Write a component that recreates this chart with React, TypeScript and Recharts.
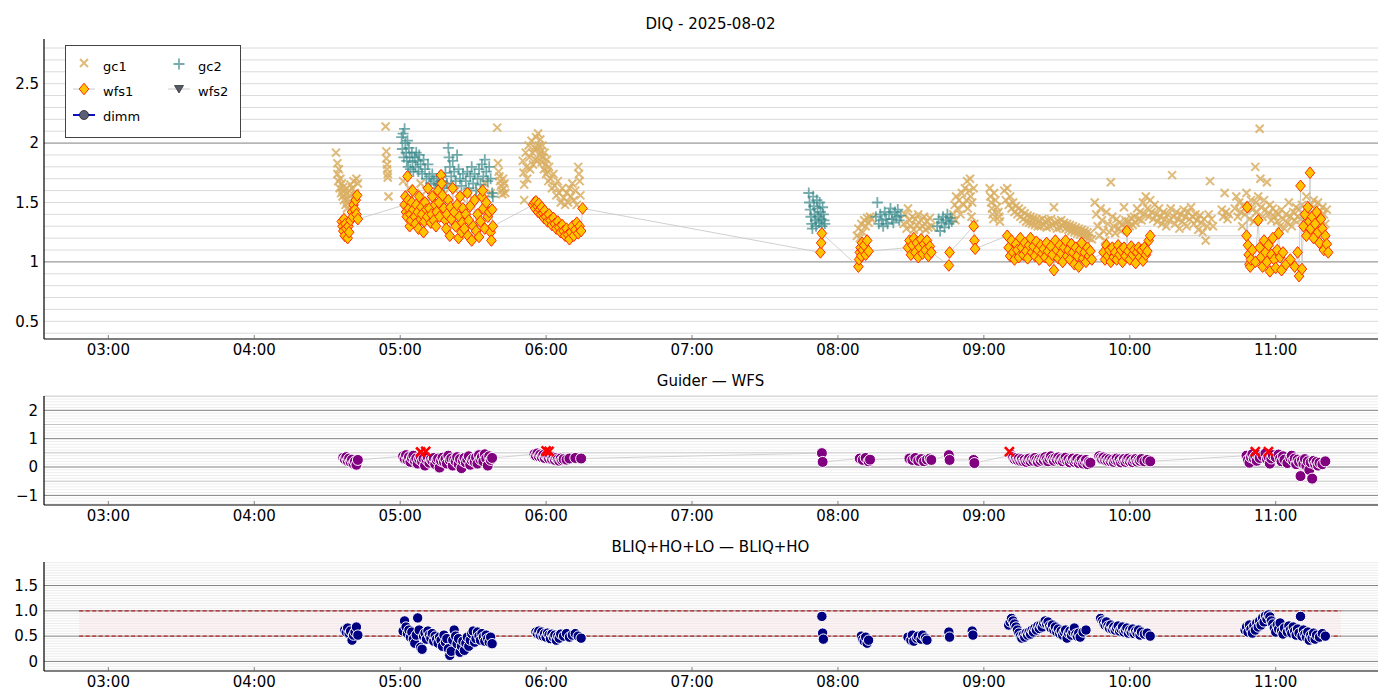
import React from "react";
import {
  ComposedChart, Scatter, XAxis, YAxis, ReferenceLine, ReferenceArea,
} from "recharts";

// time in decimal hours (UT), value
const gc1: number[][] = [
  [4.56, 1.92], [4.57, 1.83], [4.57, 1.74], [4.575, 1.68], [4.58, 1.78], [4.585, 1.62], [4.59, 1.7], [4.595, 1.58],
  [4.6, 1.66], [4.605, 1.55], [4.61, 1.63], [4.615, 1.52], [4.62, 1.6], [4.625, 1.48], [4.63, 1.57], [4.635, 1.45],
  [4.64, 1.53], [4.645, 1.5], [4.65, 1.6], [4.655, 1.56], [4.66, 1.65], [4.67, 1.62], [4.68, 1.68], [4.69, 1.58],
  [4.7, 1.7], [4.71, 1.66],
  [4.9, 2.14], [4.905, 1.93], [4.905, 1.87], [4.91, 1.82], [4.91, 1.78], [4.915, 1.74], [4.915, 1.71], [4.92, 1.55],
  [5.02, 1.68], [5.06, 1.62], [5.1, 1.58], [5.14, 1.66], [5.18, 1.6], [5.22, 1.55], [5.26, 1.63], [5.3, 1.57],
  [5.34, 1.65], [5.38, 1.6], [5.42, 1.54], [5.46, 1.58], [5.5, 1.52], [5.54, 1.6], [5.58, 1.66], [5.62, 1.58],
  [5.665, 2.13], [5.67, 1.83], [5.675, 1.76], [5.68, 1.72], [5.685, 1.68], [5.69, 1.64], [5.695, 1.6], [5.7, 1.57],
  [5.705, 1.7], [5.71, 1.62], [5.715, 1.66], [5.72, 1.58],
  [5.84, 1.85], [5.845, 1.75], [5.85, 1.65], [5.85, 1.52], [5.86, 1.92], [5.865, 1.8], [5.87, 1.7], [5.88, 1.98],
  [5.885, 1.88], [5.89, 1.78], [5.9, 2.02], [5.905, 1.92], [5.91, 1.82], [5.92, 1.96], [5.925, 1.86], [5.93, 2.05],
  [5.935, 1.95], [5.94, 1.85], [5.945, 2.08], [5.95, 1.98], [5.955, 1.9], [5.96, 2.03], [5.965, 1.93], [5.97, 1.84],
  [5.975, 1.98], [5.98, 1.88], [5.985, 1.78], [5.99, 1.92], [5.995, 1.82], [6.0, 1.74], [6.005, 1.86], [6.01, 1.76],
  [6.015, 1.68], [6.02, 1.8], [6.03, 1.7], [6.04, 1.62], [6.05, 1.74], [6.06, 1.64], [6.07, 1.56], [6.08, 1.68],
  [6.09, 1.58], [6.1, 1.5], [6.11, 1.62], [6.12, 1.54], [6.13, 1.48], [6.14, 1.58], [6.15, 1.5], [6.16, 1.62],
  [6.17, 1.55], [6.18, 1.66], [6.19, 1.52], [6.2, 1.6], [6.21, 1.48], [6.22, 1.8], [6.225, 1.74], [6.23, 1.68], [6.235, 1.56],
  [8.13, 1.22], [8.14, 1.28], [8.15, 1.2], [8.16, 1.32], [8.17, 1.25], [8.18, 1.35], [8.19, 1.3], [8.2, 1.37],
  [8.21, 1.33], [8.22, 1.38], [8.23, 1.36],
  [8.45, 1.32], [8.46, 1.4], [8.47, 1.28], [8.48, 1.45], [8.49, 1.35], [8.5, 1.3], [8.51, 1.38], [8.52, 1.27],
  [8.53, 1.36], [8.54, 1.31], [8.55, 1.4], [8.56, 1.28], [8.57, 1.35], [8.58, 1.3], [8.59, 1.38], [8.6, 1.27],
  [8.61, 1.34], [8.62, 1.29], [8.63, 1.37], [8.64, 1.3],
  [8.79, 1.4], [8.8, 1.48], [8.805, 1.35], [8.81, 1.55], [8.82, 1.45], [8.83, 1.52], [8.84, 1.4], [8.85, 1.58],
  [8.86, 1.48], [8.87, 1.62], [8.88, 1.52], [8.885, 1.68], [8.89, 1.45], [8.9, 1.6], [8.905, 1.7], [8.91, 1.55],
  [8.915, 1.38], [8.92, 1.5], [8.93, 1.62], [8.935, 1.32],
  [9.04, 1.62], [9.045, 1.55], [9.05, 1.5], [9.055, 1.45], [9.06, 1.4], [9.065, 1.36], [9.07, 1.58], [9.08, 1.52],
  [9.09, 1.46], [9.1, 1.42], [9.105, 1.38], [9.11, 1.34],
  [9.14, 1.6], [9.15, 1.52], [9.16, 1.62], [9.17, 1.48], [9.18, 1.55], [9.19, 1.45], [9.2, 1.5], [9.21, 1.42],
  [9.22, 1.47], [9.23, 1.4], [9.24, 1.45], [9.25, 1.38], [9.26, 1.43], [9.27, 1.36], [9.28, 1.41], [9.29, 1.34],
  [9.3, 1.39], [9.31, 1.33], [9.32, 1.38], [9.33, 1.32], [9.34, 1.37], [9.35, 1.31], [9.36, 1.36], [9.37, 1.3],
  [9.38, 1.35], [9.39, 1.3], [9.4, 1.36], [9.41, 1.31], [9.42, 1.34], [9.43, 1.29], [9.44, 1.35], [9.45, 1.3],
  [9.46, 1.36], [9.47, 1.31], [9.48, 1.46], [9.49, 1.33], [9.5, 1.28], [9.51, 1.34], [9.52, 1.29], [9.53, 1.35],
  [9.54, 1.3], [9.55, 1.33], [9.56, 1.28], [9.57, 1.32], [9.58, 1.27], [9.59, 1.31], [9.6, 1.26], [9.61, 1.3],
  [9.62, 1.25], [9.63, 1.29], [9.64, 1.24], [9.65, 1.28], [9.66, 1.23], [9.67, 1.27], [9.68, 1.22], [9.69, 1.26],
  [9.7, 1.21], [9.71, 1.25], [9.72, 1.2], [9.73, 1.24], [9.74, 1.19],
  [9.76, 1.5], [9.77, 1.4], [9.78, 1.3], [9.79, 1.22], [9.8, 1.45], [9.81, 1.35], [9.82, 1.26], [9.83, 1.18],
  [9.84, 1.42], [9.85, 1.32], [9.86, 1.25], [9.87, 1.67], [9.88, 1.38], [9.89, 1.3], [9.9, 1.24], [9.91, 1.36],
  [9.92, 1.28], [9.93, 1.33], [9.94, 1.26], [9.95, 1.31], [9.96, 1.46], [9.97, 1.35], [9.98, 1.28], [9.99, 1.34],
  [10.0, 1.3], [10.01, 1.37], [10.02, 1.31], [10.03, 1.38], [10.04, 1.33], [10.05, 1.45], [10.06, 1.36], [10.07, 1.42],
  [10.08, 1.35], [10.09, 1.5], [10.1, 1.4], [10.11, 1.55], [10.12, 1.45], [10.13, 1.38], [10.14, 1.52], [10.15, 1.42],
  [10.16, 1.36], [10.17, 1.48], [10.18, 1.4], [10.19, 1.34], [10.2, 1.45], [10.21, 1.38], [10.22, 1.32], [10.23, 1.42],
  [10.24, 1.36], [10.25, 1.3], [10.26, 1.4], [10.27, 1.35], [10.28, 1.45], [10.29, 1.73], [10.3, 1.38],
  [10.31, 1.32], [10.32, 1.42], [10.33, 1.36], [10.34, 1.28], [10.35, 1.4], [10.36, 1.34], [10.37, 1.44], [10.38, 1.38],
  [10.39, 1.3], [10.4, 1.42], [10.41, 1.36], [10.42, 1.46], [10.43, 1.38], [10.44, 1.32], [10.45, 1.4], [10.46, 1.35],
  [10.47, 1.27], [10.48, 1.39], [10.49, 1.33], [10.5, 1.25], [10.51, 1.36], [10.52, 1.18], [10.53, 1.3], [10.54, 1.4],
  [10.55, 1.68], [10.56, 1.36], [10.57, 1.3], [10.63, 1.44], [10.64, 1.38], [10.65, 1.58], [10.66, 1.42], [10.67, 1.36], [10.68, 1.4],
  [10.72, 1.45], [10.73, 1.55], [10.74, 1.38], [10.75, 1.5], [10.76, 1.42], [10.77, 1.3], [10.78, 1.48], [10.79, 1.4],
  [10.8, 1.58], [10.81, 1.46], [10.82, 1.36], [10.83, 1.52], [10.84, 1.44], [10.85, 1.34], [10.86, 1.8], [10.865, 1.5],
  [10.87, 1.42], [10.88, 1.55], [10.89, 2.12], [10.895, 1.7], [10.9, 1.46], [10.91, 1.38], [10.92, 1.52], [10.93, 1.44],
  [10.94, 1.67], [10.95, 1.4], [10.96, 1.48], [10.97, 1.35], [10.98, 1.45], [10.99, 1.38], [11.0, 1.42], [11.01, 1.34],
  [11.02, 1.4], [11.03, 1.3], [11.04, 1.44], [11.05, 1.36], [11.06, 1.28], [11.07, 1.4], [11.08, 1.33], [11.09, 1.5],
  [11.1, 1.38], [11.11, 1.3], [11.12, 1.42], [11.13, 1.35], [11.14, 1.46], [11.15, 1.38], [11.16, 1.44], [11.17, 1.36],
  [11.18, 1.48], [11.19, 1.4], [11.2, 1.34], [11.21, 1.55], [11.22, 1.42], [11.23, 1.36], [11.24, 1.48], [11.25, 1.4],
  [11.26, 1.52], [11.27, 1.45], [11.28, 1.38], [11.29, 1.5], [11.3, 1.42], [11.31, 1.35], [11.32, 1.46], [11.33, 1.4],
  [11.34, 1.32], [11.35, 1.44],
];

const gc2: number[][] = [
  [5.01, 2.05], [5.015, 1.95], [5.02, 2.08], [5.025, 1.88], [5.03, 2.12], [5.035, 2.0], [5.04, 1.92], [5.045, 1.85],
  [5.05, 2.02], [5.055, 1.8], [5.06, 1.96], [5.065, 1.88], [5.07, 1.78], [5.08, 1.92], [5.085, 1.84], [5.09, 1.76],
  [5.1, 1.88], [5.105, 1.8], [5.11, 1.92], [5.12, 1.85], [5.125, 1.76], [5.13, 1.9], [5.14, 1.82], [5.15, 1.74],
  [5.16, 1.86], [5.17, 1.78], [5.18, 1.7], [5.19, 1.82], [5.2, 1.72], [5.21, 1.66], [5.22, 1.74], [5.23, 1.68],
  [5.24, 1.62], [5.25, 1.7], [5.26, 1.65], [5.27, 1.72], [5.28, 1.64], [5.29, 1.68], [5.3, 1.62], [5.31, 1.75],
  [5.32, 1.66], [5.33, 1.96], [5.335, 1.88], [5.34, 1.8], [5.35, 1.72], [5.36, 1.85], [5.37, 1.76], [5.38, 1.68],
  [5.39, 1.9], [5.4, 1.78], [5.41, 1.7], [5.42, 1.64], [5.43, 1.74], [5.45, 1.68], [5.46, 1.76], [5.47, 1.62],
  [5.48, 1.72], [5.49, 1.8], [5.5, 1.66], [5.51, 1.74], [5.52, 1.6], [5.53, 1.7], [5.54, 1.78], [5.55, 1.65],
  [5.56, 1.82], [5.57, 1.72], [5.58, 1.86], [5.59, 1.76], [5.6, 1.68], [5.61, 1.8], [5.62, 1.7], [5.63, 1.58], [5.635, 1.55],
  [7.8, 1.58], [7.805, 1.5], [7.81, 1.44], [7.815, 1.38], [7.82, 1.32], [7.825, 1.28], [7.83, 1.55], [7.835, 1.47],
  [7.84, 1.4], [7.845, 1.35], [7.85, 1.3], [7.855, 1.52], [7.86, 1.45], [7.865, 1.38], [7.87, 1.33], [7.875, 1.5],
  [7.88, 1.42], [7.885, 1.36], [7.89, 1.3], [7.895, 1.46], [7.9, 1.4], [7.905, 1.35], [7.91, 1.32],
  [8.26, 1.38], [8.27, 1.5], [8.28, 1.32], [8.29, 1.4], [8.3, 1.35], [8.31, 1.3], [8.32, 1.42], [8.33, 1.36],
  [8.34, 1.32], [8.35, 1.4], [8.36, 1.45], [8.37, 1.36], [8.38, 1.33], [8.39, 1.42], [8.4, 1.38], [8.41, 1.44],
  [8.42, 1.35], [8.43, 1.39],
  [8.68, 1.3], [8.69, 1.36], [8.7, 1.26], [8.71, 1.33], [8.72, 1.38], [8.73, 1.29], [8.74, 1.35], [8.75, 1.4],
  [8.76, 1.32], [8.77, 1.37], [8.78, 1.34],
];

const wfs1: number[][] = [
  [4.6, 1.34], [4.605, 1.3], [4.61, 1.26], [4.615, 1.36], [4.62, 1.22], [4.625, 1.32], [4.63, 1.28], [4.64, 1.2],
  [4.645, 1.3], [4.65, 1.25], [4.66, 1.35], [4.67, 1.42], [4.675, 1.38], [4.68, 1.48], [4.69, 1.44], [4.695, 1.52],
  [4.7, 1.4], [4.705, 1.56], [4.71, 1.36],
  [5.03, 1.48], [5.035, 1.55], [5.04, 1.42], [5.045, 1.38], [5.05, 1.72], [5.055, 1.52], [5.06, 1.45], [5.065, 1.3],
  [5.07, 1.4], [5.075, 1.35], [5.08, 1.5], [5.085, 1.6], [5.09, 1.44], [5.1, 1.38], [5.105, 1.32], [5.11, 1.48],
  [5.12, 1.42], [5.125, 1.28], [5.13, 1.55], [5.14, 1.36], [5.145, 1.46], [5.15, 1.4], [5.16, 1.25], [5.165, 1.34],
  [5.17, 1.5], [5.18, 1.44], [5.185, 1.38], [5.19, 1.62], [5.2, 1.45], [5.21, 1.33], [5.215, 1.4], [5.22, 1.55],
  [5.23, 1.35], [5.24, 1.48], [5.245, 1.3], [5.25, 1.42], [5.26, 1.6], [5.265, 1.5], [5.27, 1.38], [5.28, 1.73],
  [5.285, 1.66], [5.29, 1.56], [5.3, 1.45], [5.31, 1.35], [5.315, 1.28], [5.32, 1.4], [5.33, 1.52], [5.34, 1.22],
  [5.345, 1.46], [5.35, 1.36], [5.36, 1.62], [5.37, 1.42], [5.38, 1.3], [5.39, 1.48], [5.4, 1.2], [5.405, 1.38],
  [5.41, 1.55], [5.42, 1.25], [5.425, 1.33], [5.43, 1.45], [5.44, 1.28], [5.45, 1.4], [5.46, 1.58], [5.465, 1.22],
  [5.47, 1.35], [5.48, 1.47], [5.49, 1.18], [5.5, 1.3], [5.51, 1.52], [5.52, 1.26], [5.53, 1.4], [5.54, 1.21],
  [5.55, 1.34], [5.56, 1.55], [5.565, 1.6], [5.57, 1.45], [5.58, 1.28], [5.59, 1.5], [5.6, 1.38], [5.61, 1.42],
  [5.62, 1.25], [5.625, 1.18], [5.63, 1.44], [5.635, 1.3],
  [5.91, 1.48], [5.92, 1.5], [5.925, 1.45], [5.93, 1.51], [5.94, 1.47], [5.945, 1.42], [5.95, 1.49], [5.96, 1.44],
  [5.965, 1.4], [5.97, 1.46], [5.98, 1.41], [5.985, 1.37], [5.99, 1.43], [6.0, 1.38], [6.01, 1.34], [6.02, 1.4],
  [6.03, 1.35], [6.04, 1.31], [6.05, 1.37], [6.06, 1.32], [6.07, 1.28], [6.08, 1.34], [6.09, 1.29], [6.1, 1.25],
  [6.11, 1.31], [6.12, 1.26], [6.13, 1.22], [6.14, 1.28], [6.15, 1.23], [6.16, 1.19], [6.17, 1.25], [6.18, 1.3],
  [6.19, 1.22], [6.2, 1.27], [6.21, 1.33], [6.22, 1.24], [6.23, 1.3], [6.24, 1.26], [6.25, 1.45],
  [7.88, 1.08], [7.885, 1.16], [7.89, 1.24],
  [8.14, 0.96], [8.145, 1.02], [8.15, 1.08], [8.155, 1.12], [8.16, 1.05], [8.165, 1.16], [8.17, 1.1], [8.18, 1.14],
  [8.19, 1.06], [8.2, 1.18], [8.21, 1.09],
  [8.48, 1.12], [8.49, 1.18], [8.5, 1.06], [8.51, 1.14], [8.52, 1.2], [8.53, 1.08], [8.54, 1.16], [8.55, 1.04],
  [8.56, 1.12], [8.57, 1.19], [8.58, 1.07], [8.59, 1.15], [8.6, 1.1], [8.61, 1.18], [8.62, 1.05], [8.63, 1.13], [8.64, 1.08],
  [8.76, 0.97], [8.765, 1.08],
  [8.93, 1.3], [8.935, 1.18], [8.94, 1.11],
  [9.16, 1.22], [9.17, 1.12], [9.18, 1.05], [9.19, 1.18], [9.2, 1.08], [9.21, 1.02], [9.22, 1.15], [9.23, 1.1],
  [9.24, 1.04], [9.25, 1.2], [9.26, 1.12], [9.27, 1.06], [9.28, 1.16], [9.29, 1.09], [9.3, 1.03], [9.31, 1.14],
  [9.32, 1.2], [9.33, 1.08], [9.34, 1.13], [9.35, 1.05], [9.36, 1.17], [9.37, 1.1], [9.38, 1.02], [9.39, 1.14],
  [9.4, 1.07], [9.41, 1.11], [9.42, 1.04], [9.43, 1.16], [9.44, 1.09], [9.45, 1.01], [9.46, 1.13], [9.47, 1.06],
  [9.48, 0.93], [9.49, 1.18], [9.5, 1.1], [9.51, 1.03], [9.52, 1.14], [9.53, 1.07], [9.54, 1.0], [9.55, 1.12],
  [9.56, 1.18], [9.57, 1.05], [9.58, 1.1], [9.59, 1.02], [9.6, 1.15], [9.61, 1.08], [9.62, 0.98], [9.63, 1.12],
  [9.64, 1.05], [9.65, 0.96], [9.66, 1.1], [9.67, 1.16], [9.68, 1.03], [9.69, 1.08], [9.7, 1.0], [9.71, 1.12],
  [9.72, 1.05], [9.73, 1.09], [9.74, 1.02],
  [9.82, 1.08], [9.83, 1.02], [9.84, 1.14], [9.85, 1.05], [9.86, 1.1], [9.87, 1.0], [9.88, 1.12], [9.89, 1.04],
  [9.9, 1.08], [9.91, 1.02], [9.92, 1.14], [9.93, 1.06], [9.94, 1.1], [9.95, 1.0], [9.96, 1.12], [9.97, 1.05],
  [9.98, 1.26], [9.99, 1.09], [10.0, 1.02], [10.01, 1.13], [10.02, 1.06], [10.03, 1.1], [10.04, 0.99], [10.05, 1.08],
  [10.06, 1.12], [10.07, 1.04], [10.08, 1.1], [10.09, 1.01], [10.1, 1.12], [10.11, 1.06], [10.12, 1.09], [10.13, 1.18], [10.14, 1.22],
  [10.8, 1.22], [10.805, 1.46], [10.81, 1.14], [10.815, 1.06], [10.82, 0.98], [10.825, 0.96], [10.83, 1.02], [10.84, 1.1],
  [10.86, 1.0], [10.88, 1.35], [10.89, 1.12], [10.9, 1.04], [10.91, 0.96], [10.92, 1.18], [10.93, 1.08], [10.94, 1.0],
  [10.95, 1.14], [10.96, 0.92], [10.97, 1.06], [10.98, 1.2], [10.99, 1.02], [11.0, 0.95], [11.01, 1.1], [11.02, 1.24],
  [11.03, 1.04], [11.04, 0.93], [11.05, 1.08], [11.07, 0.98], [11.1, 1.02], [11.13, 0.96], [11.15, 1.08], [11.16, 0.88],
  [11.17, 1.64], [11.18, 0.94], [11.19, 1.3], [11.2, 1.4], [11.21, 1.22], [11.22, 1.46], [11.23, 1.34], [11.235, 1.75],
  [11.24, 1.28], [11.25, 1.38], [11.26, 1.2], [11.27, 1.32], [11.28, 1.42], [11.29, 1.25], [11.3, 1.16], [11.31, 1.36],
  [11.32, 1.28], [11.33, 1.1], [11.34, 1.22], [11.35, 1.15], [11.36, 1.08],
];

const guider: number[][] = [
  [4.61, 0.33], [4.62, 0.28], [4.63, 0.35], [4.64, 0.22], [4.65, 0.3], [4.66, 0.18], [4.67, 0.26], [4.68, 0.12],
  [4.69, 0.2], [4.7, 0.08], [4.71, 0.25],
  [5.02, 0.38], [5.03, 0.3], [5.04, 0.42], [5.05, 0.25], [5.06, 0.35], [5.07, 0.18], [5.08, 0.32], [5.09, 0.4],
  [5.1, 0.22], [5.11, 0.3], [5.12, 0.12], [5.13, 0.28], [5.14, 0.36], [5.15, 0.2], [5.16, 0.3], [5.17, 0.05],
  [5.18, 0.26], [5.19, 0.34], [5.2, 0.15], [5.21, 0.28], [5.22, 0.22], [5.23, 0.32], [5.24, 0.1], [5.25, 0.25],
  [5.26, 0.3], [5.27, -0.02], [5.28, 0.22], [5.29, 0.33], [5.3, 0.18], [5.31, 0.28], [5.32, 0.12], [5.33, 0.4],
  [5.34, 0.24], [5.35, 0.3], [5.36, 0.05], [5.37, 0.26], [5.38, 0.2], [5.39, 0.35], [5.4, 0.1], [5.41, 0.28],
  [5.42, -0.04], [5.43, 0.22], [5.44, 0.32], [5.45, 0.16], [5.46, 0.27], [5.47, 0.38], [5.48, 0.08], [5.49, 0.24],
  [5.5, 0.3], [5.51, 0.18], [5.52, 0.34], [5.53, 0.12], [5.54, 0.42], [5.55, 0.26], [5.56, 0.35], [5.57, 0.2],
  [5.58, 0.45], [5.59, 0.3], [5.6, 0.05], [5.61, 0.38], [5.62, 0.25], [5.63, 0.32],
  [5.92, 0.45], [5.93, 0.4], [5.94, 0.48], [5.95, 0.38], [5.96, 0.44], [5.97, 0.35], [5.98, 0.42], [5.99, 0.32],
  [6.0, 0.4], [6.01, 0.36], [6.02, 0.3], [6.03, 0.38], [6.04, 0.28], [6.05, 0.34], [6.06, 0.25], [6.07, 0.32],
  [6.08, 0.27], [6.09, 0.22], [6.1, 0.3], [6.11, 0.24], [6.12, 0.28], [6.14, 0.26], [6.16, 0.3], [6.2, 0.32], [6.24, 0.3],
  [7.89, 0.49], [7.895, 0.18],
  [8.15, 0.3], [8.17, 0.25], [8.19, 0.32], [8.21, 0.2], [8.22, 0.26],
  [8.49, 0.3], [8.51, 0.25], [8.53, 0.32], [8.55, 0.22], [8.57, 0.28], [8.59, 0.2], [8.61, 0.26], [8.63, 0.3], [8.64, 0.25],
  [8.76, 0.42], [8.765, 0.25],
  [8.93, 0.25], [8.935, 0.14],
  [9.19, 0.42], [9.2, 0.35], [9.21, 0.28], [9.22, 0.32], [9.23, 0.25], [9.24, 0.3], [9.25, 0.22], [9.26, 0.28],
  [9.27, 0.2], [9.28, 0.26], [9.29, 0.18], [9.3, 0.25], [9.31, 0.3], [9.32, 0.2], [9.33, 0.27], [9.34, 0.22],
  [9.35, 0.32], [9.36, 0.24], [9.37, 0.18], [9.38, 0.28], [9.39, 0.22], [9.4, 0.3], [9.41, 0.25], [9.42, 0.35],
  [9.43, 0.27], [9.44, 0.2], [9.45, 0.3], [9.46, 0.38], [9.47, 0.28], [9.48, 0.22], [9.49, 0.32], [9.5, 0.26],
  [9.51, 0.34], [9.52, 0.24], [9.53, 0.3], [9.54, 0.2], [9.55, 0.28], [9.56, 0.33], [9.57, 0.22], [9.58, 0.27],
  [9.59, 0.16], [9.6, 0.25], [9.61, 0.3], [9.62, 0.18], [9.63, 0.24], [9.64, 0.28], [9.65, 0.14], [9.66, 0.22],
  [9.67, 0.26], [9.68, 0.12], [9.69, 0.2], [9.7, 0.25], [9.71, 0.1], [9.72, 0.18], [9.73, 0.15],
  [9.79, 0.38], [9.8, 0.32], [9.81, 0.28], [9.82, 0.34], [9.83, 0.25], [9.84, 0.3], [9.85, 0.22], [9.86, 0.28],
  [9.87, 0.2], [9.88, 0.26], [9.89, 0.18], [9.9, 0.25], [9.91, 0.3], [9.92, 0.2], [9.93, 0.27], [9.94, 0.16],
  [9.95, 0.24], [9.96, 0.28], [9.97, 0.18], [9.98, 0.25], [9.99, 0.3], [10.0, 0.2], [10.01, 0.26], [10.02, 0.17],
  [10.03, 0.24], [10.04, 0.28], [10.05, 0.19], [10.06, 0.25], [10.07, 0.22], [10.08, 0.28], [10.1, 0.2], [10.12, 0.25], [10.14, 0.2],
  [10.8, 0.4], [10.81, 0.25], [10.82, 0.15], [10.83, 0.35], [10.84, 0.45], [10.85, 0.3], [10.86, 0.38], [10.87, 0.22],
  [10.88, 0.42], [10.89, 0.32], [10.91, 0.4], [10.93, 0.48], [10.94, 0.28], [10.95, 0.36], [10.96, 0.12], [10.97, 0.3],
  [10.98, 0.42], [11.0, 0.35], [11.02, 0.44], [11.03, 0.3], [11.04, 0.2], [11.05, 0.38], [11.06, 0.26], [11.08, 0.14],
  [11.1, 0.32], [11.11, 0.4], [11.12, 0.22], [11.13, 0.3], [11.14, 0.1], [11.15, 0.26], [11.16, 0.18], [11.17, -0.32],
  [11.18, 0.24], [11.19, 0.12], [11.2, 0.28], [11.21, 0.05], [11.22, 0.2], [11.23, -0.1], [11.24, 0.16], [11.25, -0.41],
  [11.26, 0.22], [11.27, 0.1], [11.28, 0.18], [11.29, 0.05], [11.3, 0.15], [11.32, 0.1], [11.34, 0.2],
];

const guiderFlags: number[][] = [
  [5.14, 0.53], [5.175, 0.55], [6.0, 0.57], [6.02, 0.55], [9.175, 0.54], [10.86, 0.54], [10.95, 0.54],
];

const bliq: number[][] = [
  [4.62, 0.62], [4.63, 0.58], [4.64, 0.66], [4.65, 0.55], [4.66, 0.6], [4.67, 0.42], [4.68, 0.52], [4.69, 0.58],
  [4.7, 0.68], [4.71, 0.52],
  [5.02, 0.6], [5.03, 0.8], [5.04, 0.68], [5.05, 0.55], [5.06, 0.62], [5.07, 0.48], [5.08, 0.58], [5.09, 0.44],
  [5.1, 0.36], [5.11, 0.52], [5.12, 0.86], [5.13, 0.62], [5.14, 0.28], [5.15, 0.24], [5.16, 0.5], [5.17, 0.56],
  [5.18, 0.44], [5.19, 0.6], [5.2, 0.52], [5.21, 0.46], [5.22, 0.55], [5.23, 0.4], [5.24, 0.5], [5.25, 0.44],
  [5.26, 0.36], [5.27, 0.48], [5.28, 0.42], [5.29, 0.3], [5.3, 0.52], [5.31, 0.38], [5.32, 0.45], [5.33, 0.25],
  [5.34, 0.12], [5.35, 0.2], [5.36, 0.42], [5.37, 0.62], [5.38, 0.5], [5.39, 0.35], [5.4, 0.45], [5.41, 0.18],
  [5.42, 0.3], [5.43, 0.4], [5.44, 0.22], [5.45, 0.36], [5.46, 0.48], [5.47, 0.3], [5.48, 0.42], [5.49, 0.55],
  [5.5, 0.6], [5.51, 0.38], [5.52, 0.45], [5.53, 0.58], [5.54, 0.5], [5.55, 0.42], [5.56, 0.55], [5.57, 0.48],
  [5.58, 0.4], [5.59, 0.52], [5.6, 0.45], [5.61, 0.38], [5.62, 0.48], [5.63, 0.35],
  [5.93, 0.58], [5.94, 0.55], [5.95, 0.6], [5.96, 0.52], [5.97, 0.58], [5.98, 0.5], [5.99, 0.55], [6.0, 0.48],
  [6.01, 0.56], [6.02, 0.52], [6.03, 0.45], [6.04, 0.54], [6.05, 0.48], [6.06, 0.52], [6.07, 0.42], [6.08, 0.5],
  [6.09, 0.46], [6.1, 0.54], [6.12, 0.5], [6.14, 0.55], [6.16, 0.48], [6.18, 0.52], [6.2, 0.55], [6.22, 0.5], [6.24, 0.46],
  [7.89, 0.89], [7.895, 0.56], [7.9, 0.44],
  [8.16, 0.5], [8.17, 0.44], [8.18, 0.4], [8.19, 0.48], [8.2, 0.36], [8.21, 0.42],
  [8.48, 0.48], [8.5, 0.42], [8.51, 0.52], [8.52, 0.4], [8.54, 0.46], [8.55, 0.5], [8.57, 0.44], [8.58, 0.52],
  [8.6, 0.46], [8.61, 0.42],
  [8.76, 0.58], [8.765, 0.48],
  [8.92, 0.6], [8.925, 0.52],
  [9.17, 0.72], [9.18, 0.78], [9.19, 0.85], [9.2, 0.8], [9.21, 0.74], [9.22, 0.68], [9.23, 0.62], [9.24, 0.56],
  [9.25, 0.5], [9.26, 0.46], [9.27, 0.52], [9.28, 0.48], [9.29, 0.56], [9.3, 0.52], [9.31, 0.58], [9.32, 0.54],
  [9.33, 0.62], [9.34, 0.58], [9.35, 0.66], [9.36, 0.62], [9.37, 0.7], [9.38, 0.65], [9.39, 0.72], [9.4, 0.68],
  [9.41, 0.76], [9.42, 0.8], [9.43, 0.74], [9.44, 0.78], [9.45, 0.7], [9.46, 0.66], [9.47, 0.72], [9.48, 0.62],
  [9.49, 0.68], [9.5, 0.58], [9.51, 0.64], [9.52, 0.55], [9.53, 0.6], [9.54, 0.52], [9.55, 0.58], [9.56, 0.62],
  [9.57, 0.46], [9.58, 0.56], [9.59, 0.6], [9.6, 0.52], [9.61, 0.58], [9.62, 0.66], [9.63, 0.54], [9.64, 0.5],
  [9.65, 0.56], [9.66, 0.48], [9.68, 0.58], [9.7, 0.62],
  [9.8, 0.85], [9.81, 0.8], [9.82, 0.76], [9.83, 0.72], [9.84, 0.78], [9.85, 0.7], [9.86, 0.66], [9.87, 0.72],
  [9.88, 0.64], [9.89, 0.68], [9.9, 0.62], [9.91, 0.66], [9.92, 0.7], [9.93, 0.6], [9.94, 0.64], [9.95, 0.68],
  [9.96, 0.58], [9.97, 0.62], [9.98, 0.66], [9.99, 0.56], [10.0, 0.62], [10.01, 0.58], [10.02, 0.64], [10.03, 0.55],
  [10.04, 0.6], [10.05, 0.56], [10.06, 0.62], [10.07, 0.52], [10.08, 0.58], [10.1, 0.54], [10.12, 0.56], [10.14, 0.5],
  [10.79, 0.62], [10.8, 0.68], [10.81, 0.58], [10.82, 0.72], [10.83, 0.64], [10.84, 0.56], [10.85, 0.7], [10.86, 0.62],
  [10.87, 0.76], [10.88, 0.68], [10.89, 0.8], [10.9, 0.72], [10.91, 0.86], [10.92, 0.78], [10.93, 0.9], [10.94, 0.84],
  [10.95, 0.92], [10.96, 0.88], [10.97, 0.8], [10.98, 0.74], [10.99, 0.66], [11.0, 0.58], [11.01, 0.72], [11.02, 0.64],
  [11.03, 0.76], [11.04, 0.6], [11.05, 0.54], [11.06, 0.66], [11.08, 0.58], [11.09, 0.7], [11.1, 0.62], [11.11, 0.56],
  [11.12, 0.68], [11.13, 0.6], [11.14, 0.52], [11.15, 0.64], [11.16, 0.56], [11.17, 0.89], [11.18, 0.5], [11.19, 0.62],
  [11.2, 0.54], [11.21, 0.48], [11.22, 0.58], [11.23, 0.42], [11.24, 0.52], [11.25, 0.46], [11.26, 0.56], [11.27, 0.44],
  [11.28, 0.52], [11.3, 0.48], [11.32, 0.55], [11.34, 0.5],
];

const HOUR_TICKS = [3, 4, 5, 6, 7, 8, 9, 10, 11];
const X_DOMAIN = [2.559, 11.701];
const BAND_START = 2.8;
const BAND_END = 11.445;

const FONT = "DejaVu Sans";
const pts = (arr: number[][]) => arr.map(([x, y]) => ({ x, y }));

const gridLines = (from: number, to: number, step: number) => {
  const out: number[] = [];
  const n = Math.round((to - from) / step);
  for (let i = 0; i <= n; i++) out.push(Math.round((from + i * step) * 1000) / 1000);
  return out;
};

const hourLabel = (h: number) => `${String(h).padStart(2, "0")}:00`;

const XTick = (props: any) => {
  const { x, y, payload } = props;
  const axisY = y - 8;
  return (
    <g>
      <line x1={x} x2={x} y1={axisY} y2={axisY - 4} stroke="#666" strokeWidth={0.8} />
      <text x={x} y={axisY + 16} textAnchor="middle" fontSize={15} fontFamily={FONT} fill="#000">
        {hourLabel(payload.value)}
      </text>
    </g>
  );
};

const XShape = (p: any) => {
  const s = 4;
  return (
    <path
      d={`M${p.cx - s},${p.cy - s}L${p.cx + s},${p.cy + s}M${p.cx - s},${p.cy + s}L${p.cx + s},${p.cy - s}`}
      stroke="#d9ae62" strokeOpacity={0.85} strokeWidth={2} fill="none"
    />
  );
};

const PlusShape = (p: any) => {
  const s = 5.5;
  return (
    <path
      d={`M${p.cx - s},${p.cy}L${p.cx + s},${p.cy}M${p.cx},${p.cy - s}L${p.cx},${p.cy + s}`}
      stroke="#3a8a8c" strokeOpacity={0.7} strokeWidth={1.8} fill="none"
    />
  );
};

const DiamondShape = (p: any) => {
  const w = 4.8, h = 5.8;
  return (
    <path
      d={`M${p.cx},${p.cy - h}L${p.cx + w},${p.cy}L${p.cx},${p.cy + h}L${p.cx - w},${p.cy}Z`}
      fill="#ffc400" stroke="#ff2a00" strokeWidth={1}
    />
  );
};

const PurpleDot = (p: any) => (
  <circle cx={p.cx} cy={p.cy} r={5.5} fill="#800080" stroke="#fff" strokeWidth={1} />
);

const NavyDot = (p: any) => (
  <circle cx={p.cx} cy={p.cy} r={5.2} fill="#000080" stroke="#fff" strokeWidth={1} />
);

const RedX = (p: any) => {
  const s = 4.5;
  return (
    <path
      d={`M${p.cx - s},${p.cy - s}L${p.cx + s},${p.cy + s}M${p.cx - s},${p.cy + s}L${p.cx + s},${p.cy - s}`}
      stroke="#ff0000" strokeWidth={2.6} fill="none"
    />
  );
};

const yTickStyle = { fontSize: 15, fill: "#000", fontFamily: FONT };

function Title({ text, top }: { text: string; top: number }) {
  return (
    <div style={{
      position: "absolute", left: 44, width: 1333, top, textAlign: "center",
      fontSize: 15, fontFamily: FONT, color: "#000", lineHeight: "18px",
    }}>
      {text}
    </div>
  );
}

function LegendBox() {
  const tx = { fontSize: 13, fontFamily: FONT, fill: "#000" } as const;
  return (
    <svg width={260} height={150} style={{ position: "absolute", left: 0, top: 0, pointerEvents: "none" }}>
      <rect x={65.5} y={45.5} width={175} height={92} fill="#fff" stroke="#444" strokeWidth={1} />
      <XShape cx={84} cy={63} />
      <text x={103} y={71} {...tx}>gc1</text>
      <PlusShape cx={179} cy={64} />
      <text x={198} y={71} {...tx}>gc2</text>
      <line x1={73} x2={95} y1={89} y2={89} stroke="#ccc" strokeWidth={1} />
      <DiamondShape cx={84} cy={89} />
      <text x={103} y={96} {...tx}>wfs1</text>
      <line x1={168} x2={190} y1={89} y2={89} stroke="#ccc" strokeWidth={1} />
      <path d="M174.5,85.5L183.5,85.5L179,93Z" fill="#555a66" stroke="#333" strokeWidth={0.8} />
      <text x={198} y={96} {...tx}>wfs2</text>
      <line x1={73} x2={95} y1={115} y2={115} stroke="#1010c0" strokeWidth={2} />
      <circle cx={84} cy={115} r={4.5} fill="#5a6078" stroke="#222" strokeWidth={0.8} />
      <text x={103} y={121} {...tx}>dimm</text>
    </svg>
  );
}

export default function App() {
  const topMinor = gridLines(0.4, 2.8, 0.1).filter((v) => v !== 1 && v !== 2);
  const midMinor = gridLines(-1.3, 2.5, 0.1).filter((v) => Math.abs(v * 2 - Math.round(v * 2)) > 1e-6);
  const midHalf = [-0.5, 0.5, 1.5, 2.5];
  const botMinor = gridLines(-0.15, 1.95, 0.05).filter((v) => Math.abs(v * 2 - Math.round(v * 2)) > 1e-6);

  const axisLine = { stroke: "#000", strokeWidth: 1.2 };

  return (
    <div style={{ position: "absolute", left: 0, top: 0, width: 1400, height: 700, background: "#fff", fontFamily: FONT }}>
      <Title text="DIQ - 2025-08-02" top={15} />
      <div style={{ position: "absolute", left: 0, top: 0 }}>
        <ComposedChart width={1400} height={360} margin={{ top: 39, right: 22, bottom: 0, left: 0 }}>
          <XAxis type="number" dataKey="x" domain={X_DOMAIN} ticks={HOUR_TICKS} allowDataOverflow
            height={21} tick={<XTick />} tickLine={false} tickSize={6} tickMargin={2} axisLine={axisLine} />
          <YAxis type="number" dataKey="y" domain={[0.351, 2.876]} ticks={[0.5, 1, 1.5, 2, 2.5]} allowDataOverflow
            width={44} tickLine={false} tickSize={3} tickMargin={2} tick={yTickStyle} axisLine={axisLine}
            tickFormatter={(v: number) => String(v)} />
          {topMinor.map((v) => <ReferenceLine key={`tm${v}`} y={v} stroke="#dadada" strokeWidth={1} />)}
          {[1, 2].map((v) => <ReferenceLine key={`tM${v}`} y={v} stroke="#808080" strokeWidth={1} />)}
          <Scatter name="gc1" data={pts(gc1)} shape={XShape} isAnimationActive={false} />
          <Scatter name="gc2" data={pts(gc2)} shape={PlusShape} isAnimationActive={false} />
          <Scatter name="wfs1" data={pts(wfs1)} shape={DiamondShape} isAnimationActive={false}
            line={{ stroke: "#c4c4c4", strokeWidth: 0.8 }} lineType="joint" />
        </ComposedChart>
      </div>
      <LegendBox />

      <Title text="Guider — WFS" top={372} />
      <div style={{ position: "absolute", left: 0, top: 360 }}>
        <ComposedChart width={1400} height={166} margin={{ top: 36, right: 22, bottom: 0, left: 0 }}>
          <XAxis type="number" dataKey="x" domain={X_DOMAIN} ticks={HOUR_TICKS} allowDataOverflow
            height={21} tick={<XTick />} tickLine={false} tickSize={6} tickMargin={2} axisLine={axisLine} />
          <YAxis type="number" dataKey="y" domain={[-1.34, 2.505]} ticks={[-1, 0, 1, 2]} allowDataOverflow
            width={44} tickLine={false} tickSize={4} tickMargin={2} tick={yTickStyle} axisLine={axisLine}
            tickFormatter={(v: number) => (v < 0 ? `\u2212${Math.abs(v)}` : String(v))} />
          {midMinor.map((v) => <ReferenceLine key={`mm${v}`} y={v} stroke="#eeeeee" strokeWidth={1} />)}
          {midHalf.map((v) => <ReferenceLine key={`mh${v}`} y={v} stroke="#c4c4c4" strokeWidth={1} />)}
          {[-1, 0, 1, 2].map((v) => <ReferenceLine key={`mM${v}`} y={v} stroke="#808080" strokeWidth={1} />)}
          <Scatter name="guider" data={pts(guider)} shape={PurpleDot} isAnimationActive={false}
            line={{ stroke: "#c8c8c8", strokeWidth: 0.8 }} lineType="joint" />
          <Scatter name="flagged" data={pts(guiderFlags)} shape={RedX} isAnimationActive={false} />
        </ComposedChart>
      </div>

      <Title text="BLIQ+HO+LO — BLIQ+HO" top={538} />
      <div style={{ position: "absolute", left: 0, top: 526 }}>
        <ComposedChart width={1400} height={166} margin={{ top: 36, right: 22, bottom: 0, left: 0 }}>
          <XAxis type="number" dataKey="x" domain={X_DOMAIN} ticks={HOUR_TICKS} allowDataOverflow
            height={21} tick={<XTick />} tickLine={false} tickSize={6} tickMargin={2} axisLine={axisLine} />
          <YAxis type="number" dataKey="y" domain={[-0.19, 1.966]} ticks={[0, 0.5, 1, 1.5]} allowDataOverflow
            width={44} tickLine={false} tickSize={4} tickMargin={2} tick={yTickStyle} axisLine={axisLine}
            tickFormatter={(v: number) => (v === 0 ? "0" : v.toFixed(1))} />
          {botMinor.map((v) => <ReferenceLine key={`bm${v}`} y={v} stroke="#ececec" strokeWidth={1} />)}
          {[0, 0.5, 1, 1.5].map((v) => <ReferenceLine key={`bM${v}`} y={v} stroke="#808080" strokeWidth={1} />)}
          <ReferenceArea x1={BAND_START} x2={BAND_END} y1={0.5} y2={1.0} fill="#ffd6d6" fillOpacity={0.35} stroke="none" />
          <ReferenceLine segment={[{ x: BAND_START, y: 0.5 }, { x: BAND_END, y: 0.5 }]}
            stroke="#b22222" strokeWidth={1.3} strokeDasharray="4 2.5" />
          <ReferenceLine segment={[{ x: BAND_START, y: 1.0 }, { x: BAND_END, y: 1.0 }]}
            stroke="#b22222" strokeWidth={1.3} strokeDasharray="4 2.5" />
          <Scatter name="bliq" data={pts(bliq)} shape={NavyDot} isAnimationActive={false} />
        </ComposedChart>
      </div>
    </div>
  );
}
